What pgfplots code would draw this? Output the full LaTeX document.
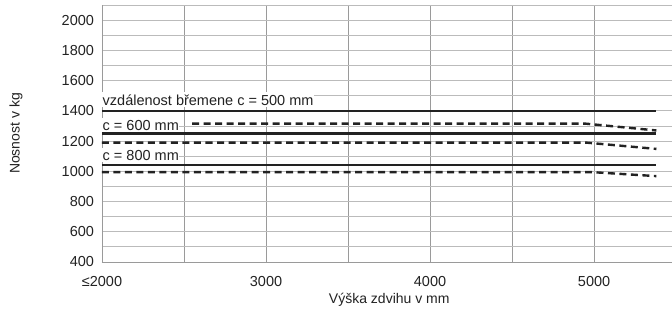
\documentclass[border=0pt]{standalone}
\usepackage{fontspec}
\setmainfont{Liberation Sans}
\usepackage{pgfplots}
\pgfplotsset{compat=1.18}
\definecolor{ink}{HTML}{222222}
\definecolor{vgrid}{HTML}{9A9A9A}
\definecolor{hgrid}{HTML}{BBBBBB}
\begin{document}
\fontsize{14.5bp}{17bp}\selectfont
\begin{tikzpicture}
\begin{axis}[
  scale only axis,
  width=570bp, height=257bp,
  xmin=2000, xmax=5475,
  ymin=400, ymax=2100,
  axis x line*=bottom, axis y line*=left,
  axis line style={color=vgrid, line width=0.8bp},
  xtick={2000,3000,4000,5000},
  xticklabels={≤2000,3000,4000,5000},
  minor xtick={2500,3500,4500},
  ytick={400,600,...,2000},
  minor ytick={500,700,...,2100},
  major tick length=0pt, minor tick length=0pt,
  grid=both,
  x grid style={vgrid, line width=0.8bp},
  y grid style={hgrid, line width=0.8bp},
  minor x grid style={vgrid, line width=0.8bp},
  minor y grid style={hgrid, line width=0.8bp},
  /pgf/number format/assume math mode=true,
  /pgf/number format/1000 sep={},
  tick label style={font=\fontsize{14.5bp}{17bp}\selectfont, color=ink},
  yticklabel style={xshift=-3bp},
  xticklabel style={yshift=-9bp},
  xlabel={Výška zdvihu v mm},
  ylabel={Nosnost v kg},
  label style={font=\fontsize{14bp}{17bp}\selectfont, color=ink},
  xlabel style={at={(axis description cs:0.504,-0.148)}, anchor=center},
  ylabel style={at={(axis description cs:-0.151,0.5)}, anchor=center, rotate=0},
  clip=false,
]
% solid lines
\addplot[ink, line width=2.4bp] coordinates {(2000,1400) (5380,1400)};
\addplot[ink, line width=2.4bp] coordinates {(2000,1250) (5380,1250)};
\addplot[ink, line width=2.4bp] coordinates {(2000,1040) (5380,1040)};
% dashed lines
\addplot[ink, line width=2.4bp, dash pattern=on 7bp off 4.5bp] coordinates {(2550,1315) (4950,1315) (5380,1270)};
\addplot[ink, line width=2.4bp, dash pattern=on 7bp off 4.5bp] coordinates {(2000,1190) (4950,1190) (5380,1148)};
\addplot[ink, line width=2.4bp, dash pattern=on 7bp off 4.5bp] coordinates {(2000,995) (4980,995) (5380,968)};
% labels
\node[anchor=base west, fill=white, inner xsep=0.5bp, inner ysep=2bp, text=ink] at (axis cs:2000,1438) {vzdálenost břemene c = 500 mm};
\node[anchor=base west, fill=white, inner xsep=0.5bp, inner ysep=2bp, text=ink] at (axis cs:2000,1273) {c = 600 mm};
\node[anchor=base west, fill=white, inner xsep=0.5bp, inner ysep=2bp, text=ink] at (axis cs:2000,1074) {c = 800 mm};
\end{axis}
\pgfresetboundingbox
\path[use as bounding box] (-102bp,-53bp) rectangle (570bp,262bp);
\end{tikzpicture}
\end{document}
